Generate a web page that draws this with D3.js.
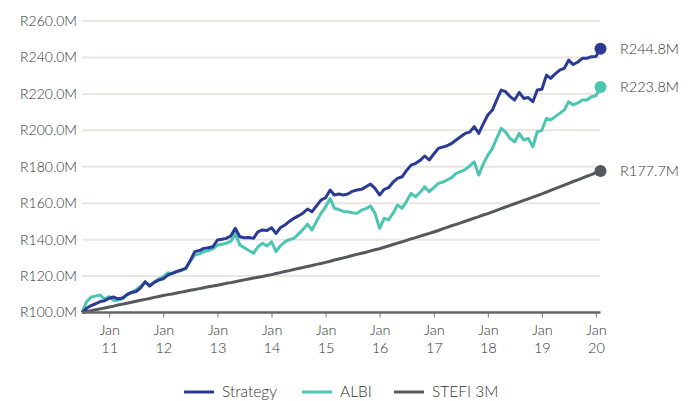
<!DOCTYPE html>
<html lang="en">
<head>
  <meta charset="UTF-8">
  <title>Strategy vs ALBI vs STEFI 3M</title>
  <style>
    body { margin: 0; background: #fff; }
    text { font-family: Lato, "Open Sans", sans-serif; font-weight: 300; fill: #333; }
  </style>
</head>
<body>
<svg width="695" height="401"></svg>

<script src="https://cdn.jsdelivr.net/npm/d3@7"></script>
<script>
  // monthly values, Jul 2010 .. Feb 2020 (R million)
  var startMonth = new Date(2010, 6, 1), endMonth = new Date(2020, 1, 1);
  var strategy = [100, 102.3, 103.8, 104.8, 106, 106.5, 107.8, 108.5, 107.5, 108, 109.8, 111,
    111.5, 113.5, 116.9, 114.5, 116.5, 117.8, 118.5, 120.5, 121.5, 122.5, 123.3, 124.2,
    128.5, 133.4, 134, 135.2, 135.5, 136.1, 139.8, 140.2, 140.7, 142, 146.2, 141.6,
    141, 141.2, 140.7, 144.3, 145.3, 145, 146.5, 143.4, 146.5, 148, 150, 151.7,
    153, 154.5, 156.8, 155.3, 158.5, 161.7, 163, 167.2, 164.5, 165, 164.5, 165,
    166.5, 167.2, 167.6, 169, 170.5, 168.1, 164.5, 167.6, 168.5, 171.5, 173.6, 174.5,
    178, 180.9, 181.9, 183.5, 185.9, 183.7, 187, 190.1, 190.8, 191.5, 192.8, 194.7,
    196.5, 198.3, 199, 202, 198.3, 203.5, 208.4, 211.1, 216.5, 222.1, 221.2, 218.5,
    216.6, 220.8, 217.5, 218, 215.7, 222.1, 222.5, 230.3, 228.5, 231, 233, 234,
    238.5, 236.1, 237.5, 239.5, 239.5, 240.4, 240.5, 244.8];
  var albi = [100, 106, 108.5, 109, 109.6, 107.4, 108.7, 106.5, 106.9, 107.5, 109.8, 111,
    112.5, 114.5, 116.4, 115, 116.8, 118.4, 119.5, 121.7, 121.5, 122.4, 123, 124.4,
    128, 131.5, 132.2, 133.4, 134, 135, 137, 137.5, 138, 139, 143.4, 137,
    135.5, 134, 132.5, 136, 138, 136.5, 138.8, 133.4, 136.5, 138.8, 140, 140.7,
    143, 145.5, 148.5, 145.3, 150, 154.4, 158, 162.6, 157.2, 156.5, 155.5, 155.3,
    154.8, 154.4, 156.2, 157, 158.4, 154.4, 146.2, 151.7, 150.8, 154.5, 159, 157.2,
    161, 165.4, 163.5, 166, 169, 166.3, 168.5, 170.9, 171.5, 172.7, 174, 176.4,
    177.3, 178.5, 180.5, 182.7, 175.4, 181.5, 186.4, 190.1, 195.5, 201.1, 199, 195.5,
    193.7, 198.3, 194.7, 195.5, 191, 199.2, 200, 206.6, 205.7, 207.5, 209.3, 211.1,
    215.7, 213.9, 215, 216.6, 216.6, 218.4, 219, 223.8];
  var stefi = [100, 100.5, 101, 101.5, 102, 102.5, 103,
    103.5, 104.1, 104.6, 105.1, 105.6, 106.2, 106.7, 107.2, 107.7, 108.3, 108.8, 109.3,
    109.8, 110.2, 110.7, 111.2, 111.7, 112.2, 112.6, 113.1, 113.6, 114.1, 114.5, 115,
    115.5, 116, 116.4, 116.9, 117.4, 117.9, 118.4, 118.9, 119.4, 119.8, 120.3, 120.8,
    121.4, 121.9, 122.5, 123.0, 123.6, 124.2, 124.7, 125.3, 125.8, 126.4, 126.9, 127.5,
    128.1, 128.8, 129.4, 130, 130.6, 131.3, 131.9, 132.5, 133.1, 133.8, 134.4, 135,
    135.8, 136.5, 137.3, 138.1, 138.8, 139.6, 140.4, 141.1, 141.9, 142.7, 143.4, 144.2,
    145, 145.9, 146.7, 147.6, 148.4, 149.2, 150.1, 150.9, 151.8, 152.6, 153.5, 154.3,
    155.2, 156.1, 157, 157.9, 158.8, 159.7, 160.6, 161.5, 162.4, 163.3, 164.2, 165.1,
    166.1, 167, 168, 169, 169.9, 170.9, 171.9, 172.8, 173.8, 174.8, 175.7, 176.7,
    177.7];
  var yTicks = [100, 120, 140, 160, 180, 200, 220, 240, 260];
  var xTickYears = [2011, 2012, 2013, 2014, 2015, 2016, 2017, 2018, 2019, 2020];

  var series = [
    {name: 'Strategy', values: strategy, color: '#2b3a93'},
    {name: 'ALBI', values: albi, color: '#4cc6b1'},
    {name: 'STEFI 3M', values: stefi, color: '#55595c'}
  ];

  var svg = d3.select('svg');
  var months = d3.timeMonth.range(startMonth, d3.timeMonth.offset(endMonth, 1));

  var x = d3.scaleTime().domain([startMonth, endMonth]).range([82, 600.5]);
  var y = d3.scaleLinear().domain([100, 260]).range([312.5, 21]);

  // gridlines + y labels
  var grid = svg.append('g');
  grid.selectAll('line').data(yTicks.slice(1)).enter().append('line')
    .attr('x1', 82).attr('x2', 600)
    .attr('y1', function (d) { return y(d); }).attr('y2', function (d) { return y(d); })
    .attr('stroke', '#e9e6e0').attr('stroke-width', 2);
  grid.selectAll('text').data(yTicks).enter().append('text')
    .attr('x', 77).attr('y', function (d) { return y(d); })
    .attr('dy', '0.35em').attr('text-anchor', 'end')
    .style('font-size', '14px')
    .text(function (d) { return 'R' + d.toFixed(1) + 'M'; });

  // x axis
  var xAxis = d3.axisBottom(x)
    .tickValues(xTickYears.map(function (yr) { return new Date(yr, 0, 1); }))
    .tickSize(5).tickFormat('');
  var gx = svg.append('g').attr('transform', 'translate(0,312.5)').call(xAxis);
  gx.select('.domain').remove();
  gx.selectAll('.tick line').attr('stroke', '#777').attr('stroke-width', 1);
  gx.selectAll('.tick').each(function (d) {
    var t = d3.select(this).append('text').attr('text-anchor', 'middle')
      .style('font-size', '14.5px').attr('fill', '#333');
    t.append('tspan').attr('x', 0).attr('y', 22).text('Jan');
    t.append('tspan').attr('x', 0).attr('y', 40).text(String(d.getFullYear()).slice(2));
  });

  var line = d3.line()
    .x(function (d, i) { return x(months[i]); })
    .y(function (d) { return y(d); });

  // lines drawn back to front
  series.slice().reverse().forEach(function (s) {
    svg.append('path').datum(s.values)
      .attr('d', line).attr('fill', 'none')
      .attr('stroke', s.color).attr('stroke-width', 3)
      .attr('stroke-linejoin', 'round');
  });

  svg.append('line').attr('x1', 82).attr('x2', 600.5).attr('y1', 312.5).attr('y2', 312.5)
    .attr('stroke', '#666').attr('stroke-width', 2.5);

  // end dots + labels
  series.forEach(function (s) {
    var last = s.values[s.values.length - 1];
    svg.append('circle').attr('cx', x(endMonth)).attr('cy', y(last)).attr('r', 6)
      .attr('fill', s.color);
    svg.append('text').attr('x', 620).attr('y', y(last)).attr('dy', '0.35em')
      .style('font-size', '14.5px').text('R' + last.toFixed(1) + 'M');
  });

  // legend
  var legendX = [184, 302, 394];
  var lg = svg.append('g').attr('transform', 'translate(0,392)');
  series.forEach(function (s, i) {
    lg.append('line').attr('x1', legendX[i]).attr('x2', legendX[i] + 30)
      .attr('y1', 0).attr('y2', 0).attr('stroke', s.color).attr('stroke-width', 3);
    lg.append('text').attr('x', legendX[i] + 38).attr('y', 0).attr('dy', '0.35em')
      .style('font-size', '15.5px').text(s.name);
  });
</script>
</body>
</html>
